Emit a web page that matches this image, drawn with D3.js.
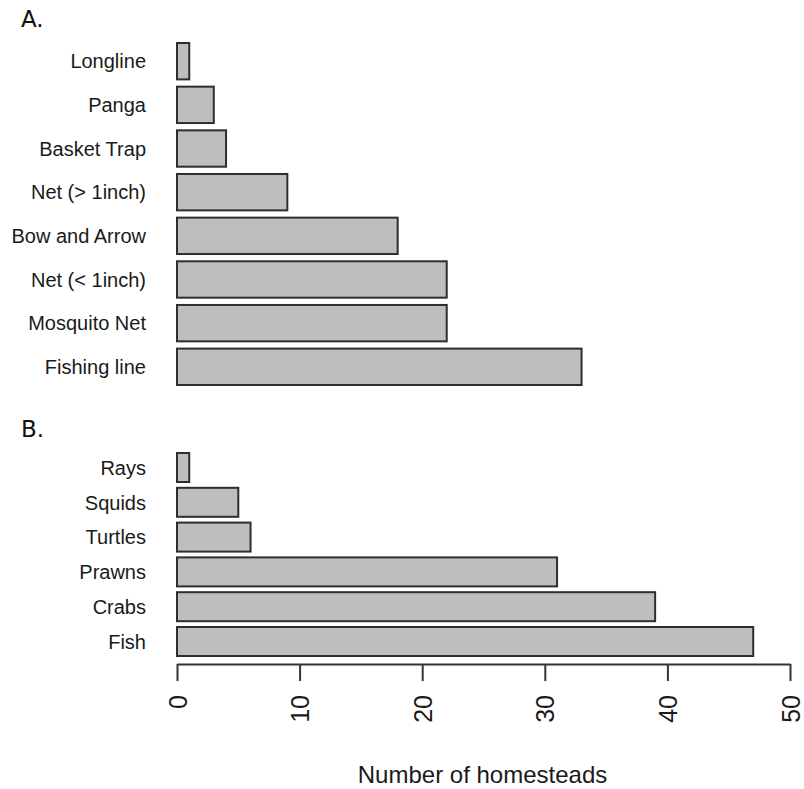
<!DOCTYPE html>
<html>
<head>
<meta charset="utf-8">
<script src="https://cdn.jsdelivr.net/npm/d3@7"></script>
<style>
  html, body { margin: 0; padding: 0; background: #fff; }
  svg { display: block; }
</style>
</head>
<body>
<svg id="chart" width="804" height="789"></svg>
<script>
// Panel A: fishing gear (top to bottom)
const gearCategories = ["Longline", "Panga", "Basket Trap", "Net (> 1inch)", "Bow and Arrow", "Net (< 1inch)", "Mosquito Net", "Fishing line"];
const gearValues = [1, 3, 4, 9, 18, 22, 22, 33];
// Panel B: catch (top to bottom)
const catchCategories = ["Rays", "Squids", "Turtles", "Prawns", "Crabs", "Fish"];
const catchValues = [1, 5, 6, 31, 39, 47];
// Axis
const xTicks = [0, 10, 20, 30, 40, 50];
const xTitle = "Number of homesteads";
const panelLabels = ["A.", "B."];

const svg = d3.select("#chart");
const font = "'Liberation Sans', Arial, sans-serif";

const x = d3.scaleLinear().domain([0, 50]).range([177, 790]);

function drawPanel(cats, vals, y0, y1) {
  const y = d3.scaleBand().domain(cats).range([y0, y1]).paddingInner(1 / 6).paddingOuter(0);
  const g = svg.append("g");
  g.selectAll("rect").data(cats).join("rect")
    .attr("x", x(0))
    .attr("y", d => y(d))
    .attr("width", (d, i) => x(vals[i]) - x(0))
    .attr("height", y.bandwidth())
    .attr("fill", "#bebebe")
    .attr("stroke", "#2e2e2e")
    .attr("stroke-width", 2);
  g.selectAll("text").data(cats).join("text")
    .attr("x", 146)
    .attr("y", d => y(d) + y.bandwidth() / 2)
    .attr("dy", "0.36em")
    .attr("text-anchor", "end")
    .attr("font-family", font)
    .attr("font-size", 20)
    .attr("fill", "#1a1a1a")
    .text(d => d);
}

drawPanel(gearCategories, gearValues, 43, 385);
drawPanel(catchCategories, catchValues, 453, 656);

// Panel letters
svg.append("text").attr("x", 21).attr("y", 27)
  .attr("font-family", "'DejaVu Sans', Verdana, sans-serif").attr("font-size", 23)
  .attr("fill", "#111").text(panelLabels[0]);
svg.append("text").attr("x", 21).attr("y", 437)
  .attr("font-family", "'DejaVu Sans', Verdana, sans-serif").attr("font-size", 23)
  .attr("fill", "#111").text(panelLabels[1]);

// Axis
const axis = d3.axisBottom(x).tickValues(xTicks).tickSize(17).tickSizeOuter(0).tickFormat(d3.format("d"));
const ag = svg.append("g").attr("transform", "translate(0,664)").call(axis);
ag.select(".domain").attr("stroke", "#333").attr("stroke-width", 2);
ag.selectAll(".tick line").attr("stroke", "#333").attr("stroke-width", 2);
ag.selectAll(".tick text")
  .attr("transform", "rotate(-90)")
  .attr("x", -31)
  .attr("y", 0)
  .attr("dy", "0.36em")
  .attr("text-anchor", "end")
  .attr("font-family", font)
  .attr("font-size", 25)
  .attr("fill", "#1a1a1a");

svg.append("text")
  .attr("x", (x(0) + x(50)) / 2 - 1)
  .attr("y", 783)
  .attr("text-anchor", "middle")
  .attr("font-family", font)
  .attr("font-size", 24)
  .attr("fill", "#1a1a1a")
  .text(xTitle);
</script>
</body>
</html>
